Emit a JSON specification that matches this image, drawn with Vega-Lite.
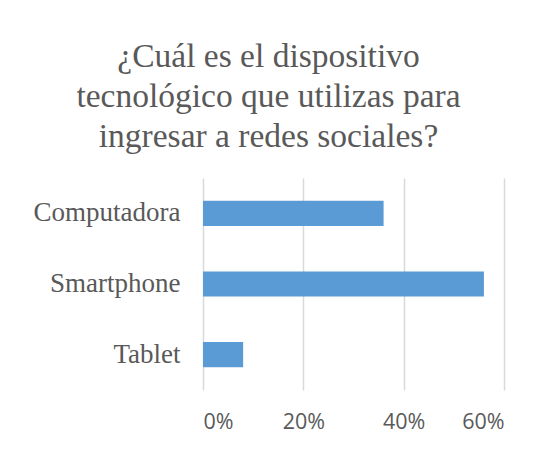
{
 "$schema": "https://vega.github.io/schema/vega-lite/v6.json",
 "width": 301, "height": 212,
 "autosize": "none",
 "padding": {"left": 203, "top": 178, "right": 46, "bottom": 61},
 "background": "white",
 "title": {"text": ["¿Cuál es el dispositivo","tecnológico que utilizas para","ingresar a redes sociales?"], "font": "Liberation Serif", "fontSize": 33.5, "fontWeight": "normal", "color": "#595959", "lineHeight": 40, "anchor": "middle", "dx": -85, "offset": 24},
 "data": {"values": [{"dispositivo":"Computadora","porcentaje":0.36},{"dispositivo":"Smartphone","porcentaje":0.56},{"dispositivo":"Tablet","porcentaje":0.08}]},
 "mark": {"type":"bar","color":"#5B9BD5"},
 "encoding": {
   "y": {"field":"dispositivo","type":"nominal","sort":null,"title":null, "scale":{"paddingInner":0.645,"paddingOuter":0.3225}, "axis":{"domain":false,"ticks":false,"labelFont":"Liberation Serif","labelFontSize":27,"labelColor":"#595959","labelPadding":23}},
   "x": {"field":"porcentaje","type":"quantitative","title":null,"scale":{"domain":[0,0.6],"nice":false}, "axis":{"values":[0,0.2,0.4,0.6],"format":".0%","domain":false,"ticks":false,"gridColor":"#D9D9D9","gridWidth":1.5,"labelFont":"Open Sans","labelFontSize":21.5,"labelColor":"#595959","labelPadding":21}}
 },
 "config": {"view":{"stroke":null}}
}
